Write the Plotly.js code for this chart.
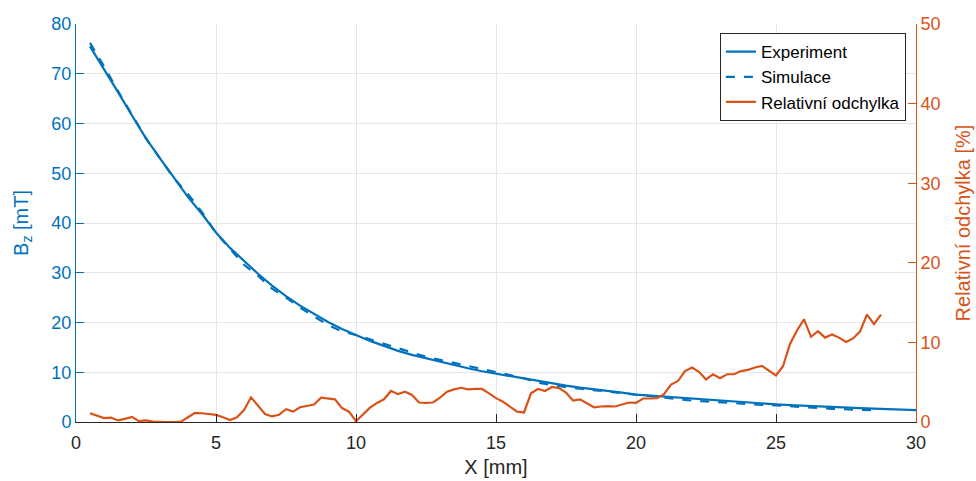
<!DOCTYPE html>
<html>
<head>
<meta charset="utf-8">
<script src="https://cdn.plot.ly/plotly-3.0.1.min.js"></script>
<style>html,body{margin:0;padding:0;background:#fff;}#chart{width:976px;height:481px;}</style>
</head>
<body>
<div id="chart"></div>
<script>
// Experiment B_z [mT], x from 0.5 to 30 mm step 0.5
const expStart = 0.5, expStep = 0.5;
const experiment = [75.5,71.0,66.3,61.6,57.0,53.0,49.0,45.2,41.8,38.1,35.0,32.3,29.8,27.4,25.3,23.4,21.7,20.1,18.7,17.5,
  16.3,15.3,14.3,13.5,12.8,12.1,11.4,10.8,10.2,9.7,9.2,8.7,8.2,7.7,7.3,6.9,6.6,6.2,5.9,5.5,
  5.3,5.0,4.8,4.6,4.4,4.2,4.0,3.9,3.7,3.55,3.4,3.25,3.15,3.0,2.9,2.8,2.7,2.6,2.5,2.4];
// Simulation B_z [mT], x from 0.5 to 28.5 mm step 0.5
const simStart = 0.5, simStep = 0.5;
const simulation = [76.2,71.5,66.5,61.8,57.0,53.0,49.0,45.8,42.2,38.0,34.8,31.6,29.4,26.8,25.0,23.0,21.2,19.5,18.2,17.5,
  16.6,15.7,14.8,14.0,13.1,12.5,11.9,11.3,10.6,10.0,9.4,8.8,7.9,7.4,7.0,6.7,6.4,6.1,5.8,5.4,
  5.15,4.85,4.55,4.3,4.15,3.95,3.75,3.65,3.45,3.35,3.15,2.85,2.8,2.65,2.6,2.5,2.35];
// Relative deviation [%], x from 0.5 to 28.75 mm step 0.25
const devStart = 0.5, devStep = 0.25;
const deviation = [1.1,0.8,0.5,0.55,0.2,0.4,0.65,0.1,0.2,0.05,0.0,0.0,0.0,0.05,0.6,1.15,1.1,1.0,0.9,0.6,
  0.25,0.6,1.5,3.1,2.0,1.0,0.7,0.9,1.6,1.3,1.85,2.0,2.2,3.05,2.95,2.85,1.75,1.3,0.1,0.95,
  1.8,2.4,2.85,3.9,3.5,3.8,3.4,2.45,2.4,2.45,3.05,3.8,4.1,4.3,4.1,4.15,4.15,3.6,3.0,2.55,
  1.9,1.3,1.2,3.6,4.15,3.9,4.4,4.25,3.7,2.7,2.85,2.35,1.85,1.95,2.0,1.95,2.2,2.45,2.4,2.95,
  2.95,3.0,3.5,4.7,5.15,6.4,6.85,6.3,5.35,6.0,5.5,6.0,6.0,6.4,6.55,6.85,7.05,6.45,5.85,7.0,
  9.8,11.5,12.9,10.7,11.4,10.6,11.0,10.6,10.05,10.5,11.35,13.5,12.3,13.5];

const xTicks = [0,5,10,15,20,25,30];
const yLeftTicks = [0,10,20,30,40,50,60,70,80];
const yRightTicks = [0,10,20,30,40,50];

const xs = (start, step, arr) => arr.map((_, i) => start + i * step);

const blue = '#0072BD', orange = '#D95319';
const traces = [
  {x: xs(expStart, expStep, experiment), y: experiment, type: 'scatter', mode: 'lines', name: 'Experiment',
   line: {color: blue, width: 2.2}, yaxis: 'y'},
  {x: xs(simStart, simStep, simulation), y: simulation, type: 'scatter', mode: 'lines', name: 'Simulace',
   line: {color: blue, width: 2.2, dash: 'dash'}, yaxis: 'y'},
  {x: xs(devStart, devStep, deviation), y: deviation, type: 'scatter', mode: 'lines', name: 'Relativní odchylka',
   line: {color: orange, width: 2.2}, yaxis: 'y2'}
];

const font = 'Liberation Sans, Arial, Helvetica, sans-serif';
const layout = {
  width: 976, height: 481,
  margin: {l: 76, r: 60, t: 24, b: 59},
  paper_bgcolor: '#fff', plot_bgcolor: '#fff',
  font: {family: font, size: 18, color: '#262626'},
  showlegend: true,
  legend: {x: 0.988, y: 0.977, xanchor: 'right', yanchor: 'top', bgcolor: '#fff',
    bordercolor: '#262626', borderwidth: 1, font: {family: font, size: 17, color: '#000'},
    tracegroupgap: 0, itemwidth: 30},
  xaxis: {
    range: [0, 30], tickvals: xTicks, ticktext: xTicks.map(String),
    showgrid: true, gridcolor: '#e6e6e6', gridwidth: 1,
    zeroline: false, showline: true, linecolor: '#262626', linewidth: 1,
    ticks: 'inside', ticklen: 8, tickcolor: '#262626',
    ticklabelstandoff: 4,
    tickfont: {family: font, size: 18, color: '#262626'},
    title: {text: 'X [mm]', font: {family: font, size: 20, color: '#262626'}, standoff: 8}
  },
  yaxis: {
    range: [0, 80], tickvals: yLeftTicks, ticktext: yLeftTicks.map(String),
    showgrid: true, gridcolor: '#e6e6e6', gridwidth: 1,
    zeroline: false, showline: true, linecolor: blue, linewidth: 1,
    ticks: 'inside', ticklen: 8, tickcolor: blue,
    tickfont: {family: font, size: 18, color: blue},
    title: {text: 'B<sub>z</sub> [mT]', font: {family: font, size: 20, color: blue}, standoff: 17}
  },
  yaxis2: {
    range: [0, 50], tickvals: yRightTicks, ticktext: yRightTicks.map(String),
    overlaying: 'y', side: 'right', showgrid: false,
    zeroline: false, showline: true, linecolor: orange, linewidth: 1,
    ticks: 'inside', ticklen: 8, tickcolor: orange,
    tickfont: {family: font, size: 18, color: orange},
    title: {text: 'Relativní odchylka [%]', font: {family: font, size: 20, color: orange}, standoff: 16}
  }
};

Plotly.newPlot('chart', traces, layout, {displayModeBar: false, staticPlot: true});
</script>
</body>
</html>
